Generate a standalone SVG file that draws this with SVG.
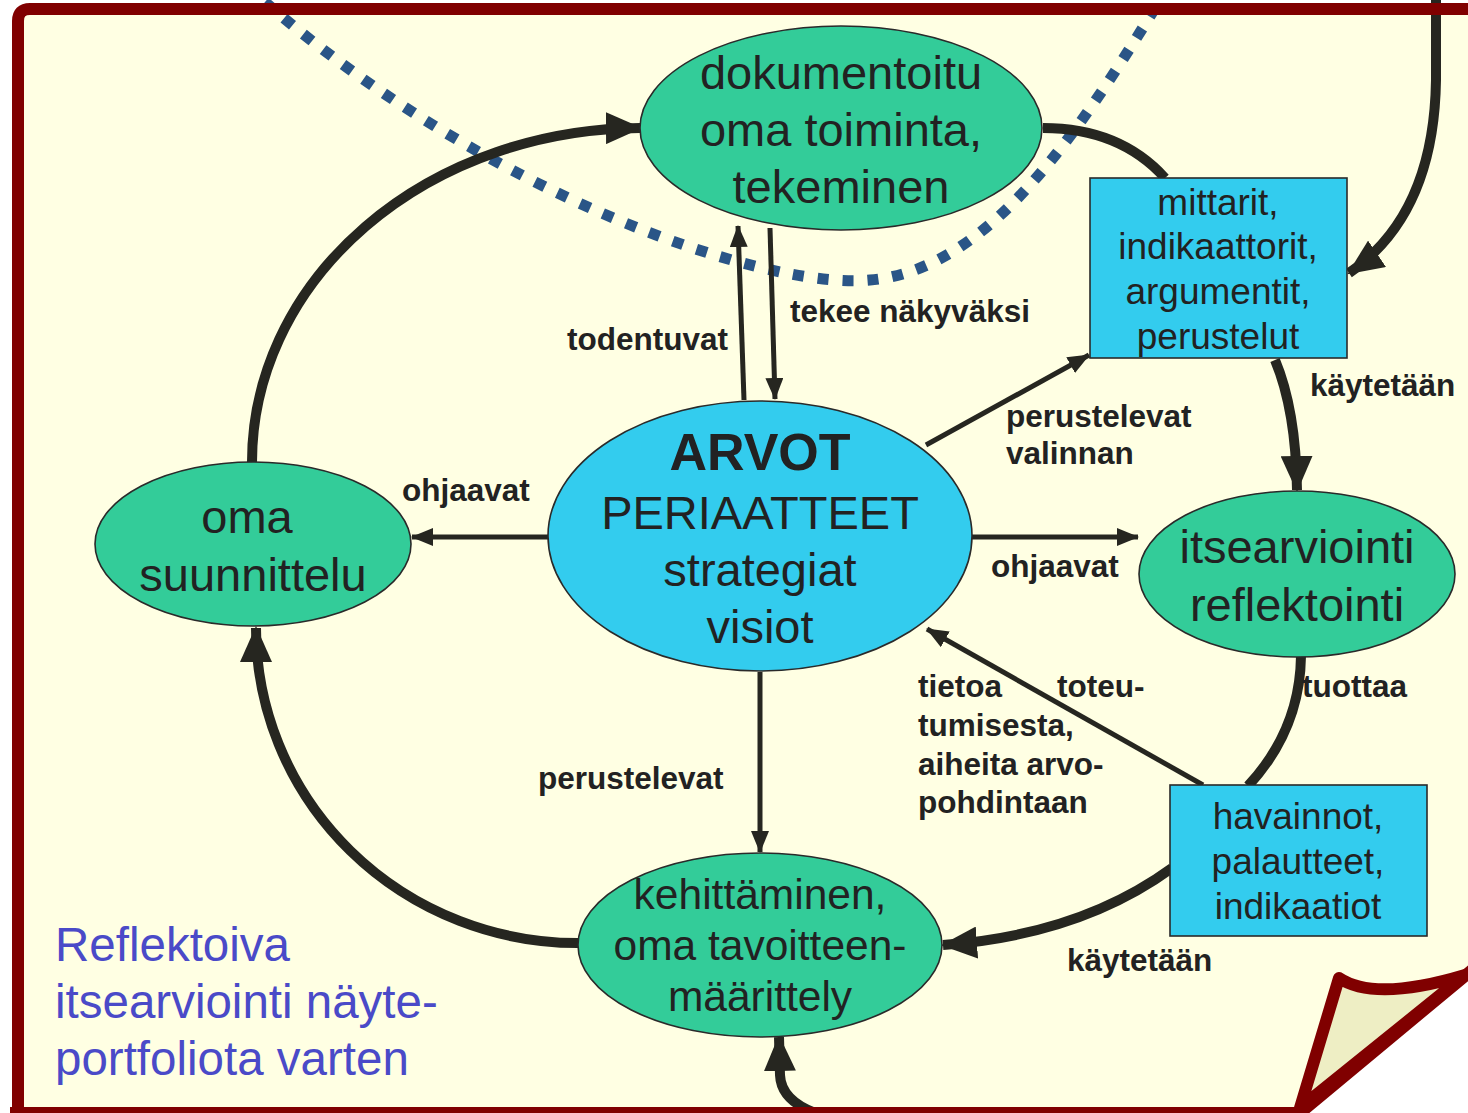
<svg xmlns="http://www.w3.org/2000/svg" width="1468" height="1113" viewBox="0 0 1468 1113">
<defs>
<style>
.g{fill:#33CC99;stroke:#2a2a2a;stroke-width:1.6}
.b{fill:#33CCEE;stroke:#2a2a2a;stroke-width:1.6}
.nt{font-family:"Liberation Sans",Arial,sans-serif;fill:#222;text-anchor:middle}
.lb{font-family:"Liberation Sans",Arial,sans-serif;font-weight:bold;font-size:31.5px;fill:#222}
.thick{fill:none;stroke:#262620;stroke-width:10}
.thin{fill:none;stroke:#262620;stroke-width:5}
</style>
<marker id="ah" viewBox="0 0 36 32" refX="34" refY="16" markerWidth="36" markerHeight="32" markerUnits="userSpaceOnUse" orient="auto">
<path d="M0,0 L36,16 L0,32 Z" fill="#262620"/>
</marker>
<marker id="as" viewBox="0 0 22 18" refX="21" refY="9" markerWidth="22" markerHeight="18" markerUnits="userSpaceOnUse" orient="auto">
<path d="M0,0 L22,9 L0,18 Z" fill="#262620"/>
</marker>
</defs>
<rect width="1468" height="1113" fill="#fff"/>
<path d="M18,1113 L18,21 Q18,9 30,9 L1468,9 L1468,972 L1300,1113 Z" fill="#FFFFE3"/>
<path d="M265,2 C480,190 760,290 870,280 C990,270 1080,130 1160,0" fill="none" stroke="#2A5587" stroke-width="11" stroke-dasharray="11 14"/>
<g id="connectors">
<path class="thick" d="M252,462 A390 334 0 0 1 640,128" marker-end="url(#ah)"/>
<path class="thick" d="M1043,128 Q1120,128 1165,178"/>
<path class="thick" d="M1275,360 Q1296,410 1297,490" marker-end="url(#ah)"/>
<path class="thick" d="M1301,656 Q1300,730 1248,786"/>
<path class="thick" d="M1172,868 Q1080,935 943,945" marker-end="url(#ah)"/>
<path class="thick" d="M578,943 A322 315 0 0 1 256,628" marker-end="url(#ah)"/>
<path class="thick" d="M1436,0 L1436,80 Q1434,215 1349,273" marker-end="url(#ah)"/>
<path class="thick" d="M815,1113 Q781,1100 780,1075 L779,1037" marker-end="url(#ah)"/>
<path class="thin" d="M744,400 L738,226" marker-end="url(#as)"/>
<path class="thin" d="M770,228 L775,399" marker-end="url(#as)"/>
<path class="thin" d="M926,445 L1089,355" marker-end="url(#as)"/>
<path class="thin" d="M548,537 L412,537" marker-end="url(#as)"/>
<path class="thin" d="M972,537 L1138,537" marker-end="url(#as)"/>
<path class="thin" d="M1203,785 L927,629" marker-end="url(#as)"/>
<path class="thin" d="M760,672 L760,852" marker-end="url(#as)"/>
</g>
<g id="dokumentoitu">
<ellipse class="g" cx="841" cy="128" rx="201" ry="102"/>
<text class="nt" font-size="47"><tspan x="841" y="89">dokumentoitu</tspan><tspan x="841" y="146">oma toiminta,</tspan><tspan x="841" y="203">tekeminen</tspan></text>
</g>
<g id="arvot">
<ellipse class="b" cx="760" cy="536" rx="212" ry="135"/>
<text class="nt" font-size="52" font-weight="bold" x="760" y="470">ARVOT</text>
<text class="nt" font-size="47"><tspan x="760" y="529">PERIAATTEET</tspan><tspan x="760" y="586">strategiat</tspan><tspan x="760" y="643">visiot</tspan></text>
</g>
<g id="oma-suunnittelu">
<ellipse class="g" cx="253" cy="544" rx="158" ry="82"/>
<text class="nt" font-size="47"><tspan x="247" y="533">oma</tspan><tspan x="253" y="591">suunnittelu</tspan></text>
</g>
<g id="itsearviointi">
<ellipse class="g" cx="1297" cy="574" rx="158" ry="83"/>
<text class="nt" font-size="47"><tspan x="1297" y="563">itsearviointi</tspan><tspan x="1297" y="621">reflektointi</tspan></text>
</g>
<g id="kehittaminen">
<ellipse class="g" cx="760" cy="945" rx="182" ry="92"/>
<text class="nt" font-size="42.5"><tspan x="760" y="909">kehittäminen,</tspan><tspan x="760" y="960">oma tavoitteen-</tspan><tspan x="760" y="1011">määrittely</tspan></text>
</g>
<g id="mittarit">
<rect class="b" x="1090" y="178" width="257" height="180"/>
<text class="nt" font-size="37"><tspan x="1218" y="215">mittarit,</tspan><tspan x="1218" y="259">indikaattorit,</tspan><tspan x="1218" y="304">argumentit,</tspan><tspan x="1218" y="349">perustelut</tspan></text>
</g>
<g id="havainnot">
<rect class="b" x="1170" y="785" width="257" height="151"/>
<text class="nt" font-size="37"><tspan x="1298" y="829">havainnot,</tspan><tspan x="1298" y="874">palautteet,</tspan><tspan x="1298" y="919">indikaatiot</tspan></text>
</g>
<g id="labels">
<text class="lb" x="567" y="350">todentuvat</text>
<text class="lb" x="790" y="322">tekee näkyväksi</text>
<text class="lb" x="1006" y="427">perustelevat</text>
<text class="lb" x="1006" y="464">valinnan</text>
<text class="lb" x="402" y="501">ohjaavat</text>
<text class="lb" x="991" y="577">ohjaavat</text>
<text class="lb" x="1310" y="396">käytetään</text>
<text class="lb" x="1302" y="697">tuottaa</text>
<text class="lb" x="918" y="697">tietoa</text>
<text class="lb" x="1057" y="697">toteu-</text>
<text class="lb" x="918" y="736">tumisesta,</text>
<text class="lb" x="918" y="775">aiheita arvo-</text>
<text class="lb" x="918" y="813">pohdintaan</text>
<text class="lb" x="538" y="789">perustelevat</text>
<text class="lb" x="1067" y="971">käytetään</text>
</g>
<text font-family="'Liberation Sans',Arial,sans-serif" font-size="47.5" fill="#4A4AC8"><tspan x="55" y="961">Reflektoiva</tspan><tspan x="55" y="1018">itsearviointi näyte-</tspan><tspan x="55" y="1075">portfoliota varten</tspan></text>
<path d="M18,1125 L18,21 Q18,9 30,9 L1480,9" fill="none" stroke="#800000" stroke-width="12"/>
<path d="M10,1113 L1300,1113 L1472,970" fill="none" stroke="#800000" stroke-width="12" stroke-linejoin="round"/>
<path d="M1339,978 Q1375,1002 1465,975 L1300,1108 Z" fill="#EEEEC4" stroke="#800000" stroke-width="12" stroke-linejoin="round"/>
</svg>
